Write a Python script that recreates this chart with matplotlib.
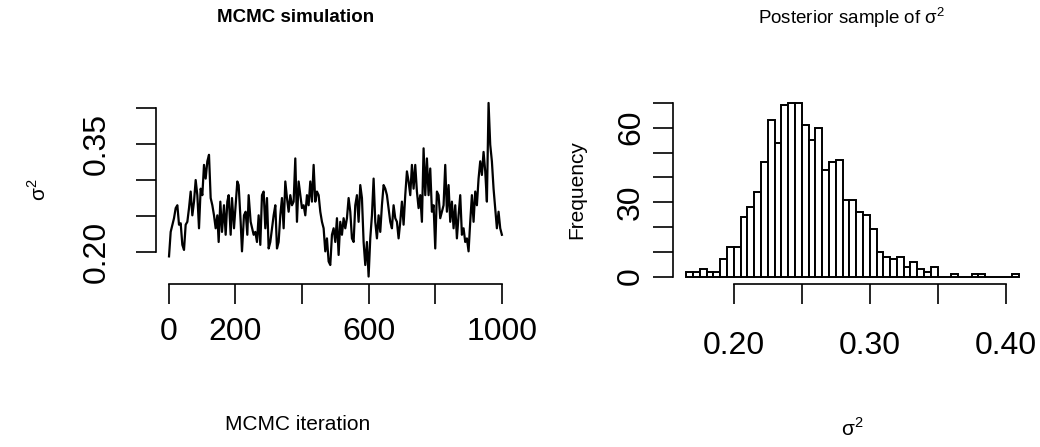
import numpy as np
import matplotlib
matplotlib.use("Agg")
import matplotlib.pyplot as plt

plt.rcParams["font.family"] = ["Liberation Sans", "DejaVu Sans"]
plt.rcParams["mathtext.fontset"] = "custom"
plt.rcParams["mathtext.rm"] = "Liberation Sans"

# trace of sigma^2 (iteration, value)
iterations = [
    1, 6, 16, 21, 26, 31, 36, 41, 46, 51, 56, 61, 66, 71, 76, 81, 86, 91, 96, 101,
    106, 111, 116, 121, 126, 131, 136, 141, 146, 150, 155, 160, 166, 171, 176, 180,
    186, 190, 196, 206, 210, 216, 220, 226, 231, 236, 240, 246, 255, 260, 265, 270,
    275, 280, 285, 290, 295, 300, 305, 315, 320, 325, 330, 335, 340, 345, 350, 355,
    360, 365, 370, 375, 380, 385, 390, 395, 400, 405, 410, 415, 420, 425, 430, 435,
    440, 445, 450, 455, 460, 465, 470, 475, 480, 485, 490, 495, 500, 505, 510, 515,
    520, 525, 530, 535, 540, 545, 550, 555, 560, 565, 570, 575, 580, 585, 590, 595,
    600, 605, 610, 615, 620, 625, 630, 635, 640, 645, 650, 655, 660, 665, 670, 675,
    680, 685, 690, 695, 700, 705, 710, 715, 720, 725, 730, 735, 740, 745, 750, 755,
    760, 765, 770, 775, 780, 785, 790, 795, 800, 805, 810, 815, 825, 830, 835, 840,
    845, 850, 855, 860, 865, 870, 875, 880, 885, 890, 895, 900, 905, 910, 915, 920,
    925, 930, 935, 940, 945, 950, 955, 960, 965, 970, 975, 980, 985, 990, 995, 1000,
]
sigma2 = [
    0.194, 0.228, 0.247, 0.261, 0.265, 0.238, 0.240, 0.210, 0.203, 0.238, 0.242, 0.261,
    0.284, 0.251, 0.270, 0.300, 0.279, 0.233, 0.288, 0.279, 0.321, 0.302, 0.326, 0.335,
    0.275, 0.265, 0.251, 0.233, 0.251, 0.214, 0.270, 0.228, 0.265, 0.224, 0.270, 0.279,
    0.224, 0.275, 0.233, 0.298, 0.293, 0.242, 0.201, 0.251, 0.256, 0.224, 0.279, 0.242,
    0.224, 0.228, 0.214, 0.251, 0.210, 0.279, 0.284, 0.233, 0.275, 0.205, 0.214, 0.251,
    0.265, 0.205, 0.214, 0.251, 0.275, 0.233, 0.298, 0.275, 0.256, 0.279, 0.265, 0.270,
    0.330, 0.242, 0.298, 0.279, 0.261, 0.265, 0.251, 0.279, 0.265, 0.298, 0.270, 0.321,
    0.270, 0.284, 0.279, 0.256, 0.242, 0.233, 0.201, 0.219, 0.187, 0.182, 0.224, 0.233,
    0.214, 0.247, 0.196, 0.242, 0.224, 0.247, 0.233, 0.247, 0.275, 0.256, 0.219, 0.214,
    0.265, 0.279, 0.242, 0.293, 0.275, 0.214, 0.182, 0.214, 0.166, 0.219, 0.251, 0.302,
    0.242, 0.219, 0.251, 0.228, 0.265, 0.293, 0.288, 0.279, 0.261, 0.242, 0.233, 0.265,
    0.247, 0.242, 0.219, 0.242, 0.270, 0.238, 0.279, 0.312, 0.298, 0.279, 0.321, 0.288,
    0.321, 0.284, 0.261, 0.279, 0.242, 0.344, 0.279, 0.330, 0.279, 0.316, 0.256, 0.265,
    0.205, 0.284, 0.279, 0.247, 0.265, 0.321, 0.256, 0.293, 0.242, 0.270, 0.233, 0.265,
    0.219, 0.251, 0.279, 0.224, 0.233, 0.214, 0.219, 0.201, 0.242, 0.279, 0.242, 0.284,
    0.265, 0.302, 0.326, 0.307, 0.339, 0.312, 0.270, 0.407, 0.349, 0.326, 0.288, 0.261,
    0.233, 0.256, 0.233, 0.224,
]

# histogram of the posterior sample
bin_start = 0.165
bin_width = 0.005
counts = [
    2, 2, 3, 2, 2, 7, 12, 12, 24, 28, 34, 46, 63, 54, 69, 70, 70, 61, 55, 60,
    43, 46, 47, 31, 31, 26, 25, 19, 10, 8, 7, 8, 4, 6, 3, 2, 4, 0, 0, 1,
    0, 0, 1, 1, 0, 0, 0, 0, 1,
]

trace_xticks = [0, 200, 400, 600, 800, 1000]
trace_xlabels = ["0", "200", "", "600", "", "1000"]
trace_yticks = [0.20, 0.25, 0.30, 0.35, 0.40]
trace_ylabels = ["0.20", "", "", "0.35", ""]
hist_xticks = [0.20, 0.25, 0.30, 0.35, 0.40]
hist_xlabels = ["0.20", "", "0.30", "", "0.40"]
hist_yticks = [0, 10, 20, 30, 40, 50, 60, 70]
hist_ylabels = ["0", "", "", "30", "", "", "60", ""]

W, H = 1040, 447
fig = plt.figure(figsize=(W / 100, H / 100), dpi=100)


def r_lim(lo, hi):
    pad = 0.04 * (hi - lo)
    return lo - pad, hi + pad


def r_axes(ax, xticks, xlabels, yticks, ylabels, xpad, ypad):
    for side in ["top", "right"]:
        ax.spines[side].set_visible(False)
    ax.spines["left"].set_bounds(yticks[0], yticks[-1])
    ax.spines["bottom"].set_bounds(xticks[0], xticks[-1])
    for side in ["left", "bottom"]:
        ax.spines[side].set_linewidth(1.2)
    ax.set_xticks(xticks)
    ax.set_xticklabels(xlabels)
    ax.set_yticks(yticks)
    ax.set_yticklabels(ylabels, rotation=90, va="center")
    ax.tick_params(direction="out", length=14.5, width=1.2, labelsize=23)
    ax.tick_params(axis="x", pad=xpad)
    ax.tick_params(axis="y", pad=ypad)


ax_w, ax_h = 359.5 / W, 187.5 / H
ax_b = (H - 283.5) / H

# trace plot
ax1 = fig.add_axes([155.7 / W, ax_b, ax_w, ax_h])
ax1.plot(iterations, sigma2, color="black", lw=1.6)
ax1.set_xlim(r_lim(1, 1000))
ax1.set_ylim(r_lim(min(sigma2), max(sigma2)))
r_axes(ax1, trace_xticks, trace_xlabels, trace_yticks, trace_ylabels, 9.5, 17)

# histogram
ax2 = fig.add_axes([673 / W, ax_b, ax_w, ax_h])
edges = bin_start + bin_width * np.arange(len(counts) + 1)
ax2.bar(edges[:-1], counts, width=bin_width, align="edge",
        facecolor="white", edgecolor="black", linewidth=1.4)
ax2.set_xlim(r_lim(edges[0], edges[-1]))
ax2.set_ylim(r_lim(0, max(counts)))
r_axes(ax2, hist_xticks, hist_xlabels, hist_yticks, hist_ylabels, 20, 5)

# titles and axis labels placed like the R layout
fig.text(296 / W, 1 - 18 / H, "MCMC simulation", fontsize=13.5,
         fontweight="bold", ha="center", va="center")
fig.text(852 / W, 1 - 18 / H, "Posterior sample of σ$^2$", fontsize=13.5,
         ha="center", va="center")
fig.text(298 / W, 1 - 425 / H, "MCMC iteration", fontsize=15,
         ha="center", va="center")
fig.text(852 / W, 1 - 428 / H, "σ$^2$", fontsize=15,
         ha="center", va="center")
fig.text(38 / W, 1 - 190 / H, "σ$^2$", fontsize=15, rotation=90,
         ha="center", va="center")
fig.text(577 / W, 1 - 190 / H, "Frequency", fontsize=15, rotation=90,
         ha="center", va="center")

fig.savefig("out.png", dpi=100)
